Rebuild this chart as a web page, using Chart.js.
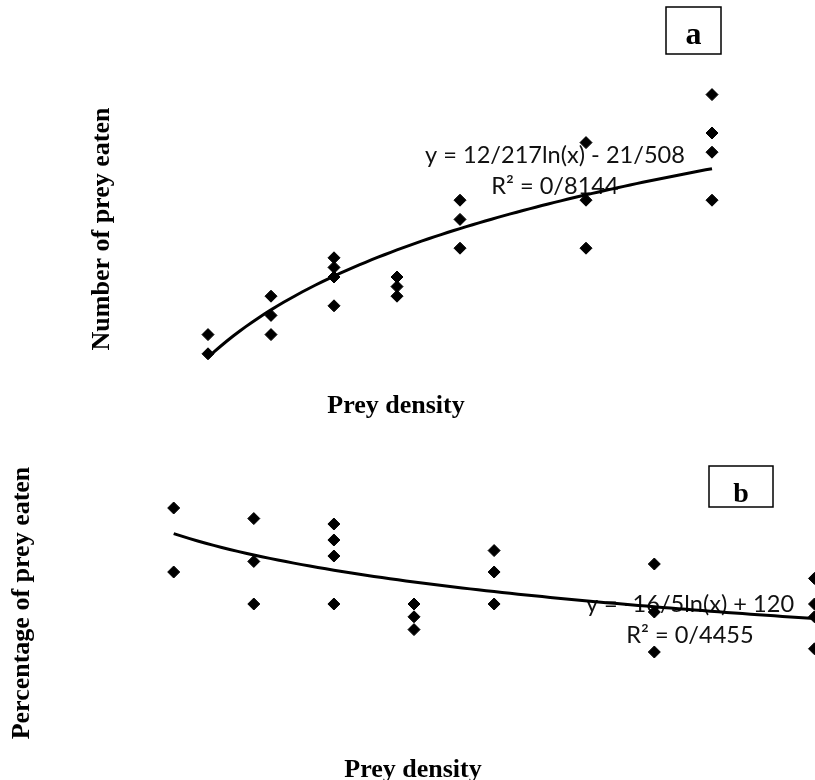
<!DOCTYPE html>
<html>
<head>
<meta charset="utf-8">
<script src="https://cdn.jsdelivr.net/npm/chart.js@4.4.1/dist/chart.umd.min.js"></script>
<style>
html,body{margin:0;padding:0;background:#fff;overflow:hidden;width:815px;height:780px;}
#wa{position:absolute;left:0;top:0;width:815px;height:440px;}
#wb{position:absolute;left:0;top:440px;width:900px;height:340px;}
</style>
</head>
<body>
<div id="wa"><canvas id="ca" width="815" height="440"></canvas></div>
<div id="wb"><canvas id="cb" width="900" height="340"></canvas></div>
<script>
// ---- Data ----
// Panel a: number of prey eaten vs prey density
const densityA = [10, 10, 15, 15, 15, 20, 20, 20, 20, 25, 25, 25, 30, 30, 30, 40, 40, 40, 50, 50, 50, 50];
const eatenA   = [7, 9, 9, 11, 13, 12, 15, 16, 17, 13, 14, 15, 18, 21, 23, 18, 23, 29, 23, 28, 30, 34];
// Panel b: percentage of prey eaten vs prey density
const densityB = [10, 10, 15, 15, 15, 20, 20, 20, 20, 25, 25, 25, 30, 30, 30, 40, 40, 40, 50, 50, 50, 50];
const percentB = [70, 90, 60, 73.3, 86.7, 60, 75, 80, 85, 52, 56, 60, 60, 70, 76.7, 45, 57.5, 72.5, 46, 56, 60, 68];
// Logarithmic trend lines (coefficients as printed on the chart)
const slopeA = 12.217, interceptA = -21.508;
const slopeB = -16.5, interceptB = 120;
const trendRange = [10, 50];
// Texts
const panelLabels = ['a', 'b'];
const xTitle = 'Prey density';
const yTitleA = 'Number of prey eaten';
const yTitleB = 'Percentage of prey eaten';
const eqTextA = ['y = 12/217ln(x) - 21/508', 'R\u00B2 = 0/8144'];
const eqTextB = ['y = -16/5ln(x) + 120', 'R\u00B2 = 0/4455'];

function toPoints(xs, ys) { return xs.map((x, i) => ({x: x, y: ys[i]})); }
function trendPoints(slope, intercept) {
  const pts = [];
  for (let x = trendRange[0]; x <= trendRange[1] + 1e-9; x += 0.5) {
    pts.push({x: x, y: slope * Math.log(x) + intercept});
  }
  return pts;
}

const SERIF = '"Liberation Serif", "Times New Roman", serif';
const SANS = 'Lato, "Open Sans", sans-serif';

function fitSize(ctx, text, family, targetW) {
  ctx.font = '100px ' + family;
  return 100 * targetW / ctx.measureText(text).width;
}

// draws the texts, offset = canvas top in page coordinates
function textPlugin(offsetY, cfg) {
  return {
    id: 'texts' + offsetY,
    beforeDatasetsDraw(chart) {
      const ctx = chart.ctx;
      ctx.save();
      ctx.fillStyle = '#111';
      ctx.textAlign = 'center';
      ctx.textBaseline = 'alphabetic';
      const size = fitSize(ctx, eqTextA[0], SANS, 260);
      ctx.font = size.toFixed(2) + 'px ' + SANS;
      cfg.eq.forEach((e) => ctx.fillText(e.t, e.x, e.y - offsetY));
      ctx.restore();
    },
    afterDraw(chart) {
      const ctx = chart.ctx;
      ctx.save();
      ctx.fillStyle = '#000';
      ctx.strokeStyle = '#000';
      // panel box
      ctx.lineWidth = 1.5;
      const b = cfg.box;
      ctx.strokeRect(b.x, b.y - offsetY, b.w, b.h);
      ctx.textAlign = 'center';
      ctx.textBaseline = 'alphabetic';
      ctx.font = 'bold ' + b.fs + 'px ' + SERIF;
      ctx.fillText(b.t, b.x + b.w / 2, b.base - offsetY);
      // x title
      ctx.font = 'bold 26px ' + SERIF;
      ctx.fillText(xTitle, cfg.xt.x, cfg.xt.y - offsetY);
      // y title
      ctx.translate(cfg.yt.x, cfg.yt.y - offsetY);
      ctx.rotate(-Math.PI / 2);
      ctx.textBaseline = 'middle';
      ctx.fillText(cfg.yt.t, 0, 0);
      ctx.restore();
    }
  };
}

function pointDataset(data) {
  return {
    data: data,
    pointStyle: 'rectRot',
    pointRadius: 6,
    pointHoverRadius: 6,
    backgroundColor: '#000',
    borderColor: '#000',
    borderWidth: 1,
    showLine: false
  };
}
function lineDataset(data) {
  return {
    data: data,
    showLine: true,
    pointRadius: 0,
    borderColor: '#000',
    borderWidth: 3,
    tension: 0,
    fill: false
  };
}

function baseOptions(padding, xmin, xmax, ymin, ymax) {
  return {
    responsive: false,
    animation: false,
    devicePixelRatio: 1,
    layout: {padding: padding},
    scales: {
      x: {type: 'linear', min: xmin, max: xmax, display: false},
      y: {type: 'linear', min: ymin, max: ymax, display: false}
    },
    plugins: {legend: {display: false}, tooltip: {enabled: false}},
    events: []
  };
}

new Chart(document.getElementById('ca'), {
  type: 'scatter',
  data: {datasets: [
    lineDataset(trendPoints(slopeA, interceptA)),
    pointDataset(toPoints(densityA, eatenA))
  ]},
  options: baseOptions({left: 145, right: 40, top: 37, bottom: 19}, 5, 55, 0, 40),
  plugins: [textPlugin(0, {
    eq: [{t: eqTextA[0], x: 555, y: 163}, {t: eqTextA[1], x: 555, y: 194}],
    box: {x: 666, y: 7, w: 55, h: 47, t: panelLabels[0], fs: 32, base: 44},
    xt: {x: 396, y: 413},
    yt: {x: 102, y: 229, t: yTitleA}
  })]
});

new Chart(document.getElementById('cb'), {
  type: 'scatter',
  data: {datasets: [
    lineDataset(trendPoints(slopeB, interceptB)),
    pointDataset(toPoints(densityB, percentB))
  ]},
  options: baseOptions({left: 13.5, right: 0, top: 36, bottom: 48}, 0, 54.9, 20, 100),
  plugins: [textPlugin(440, {
    eq: [{t: eqTextB[0], x: 690, y: 612}, {t: eqTextB[1], x: 690, y: 643}],
    box: {x: 709, y: 466, w: 64, h: 41, t: panelLabels[1], fs: 28, base: 502},
    xt: {x: 413, y: 777},
    yt: {x: 22, y: 603, t: yTitleB}
  })]
});
</script>
</body>
</html>
